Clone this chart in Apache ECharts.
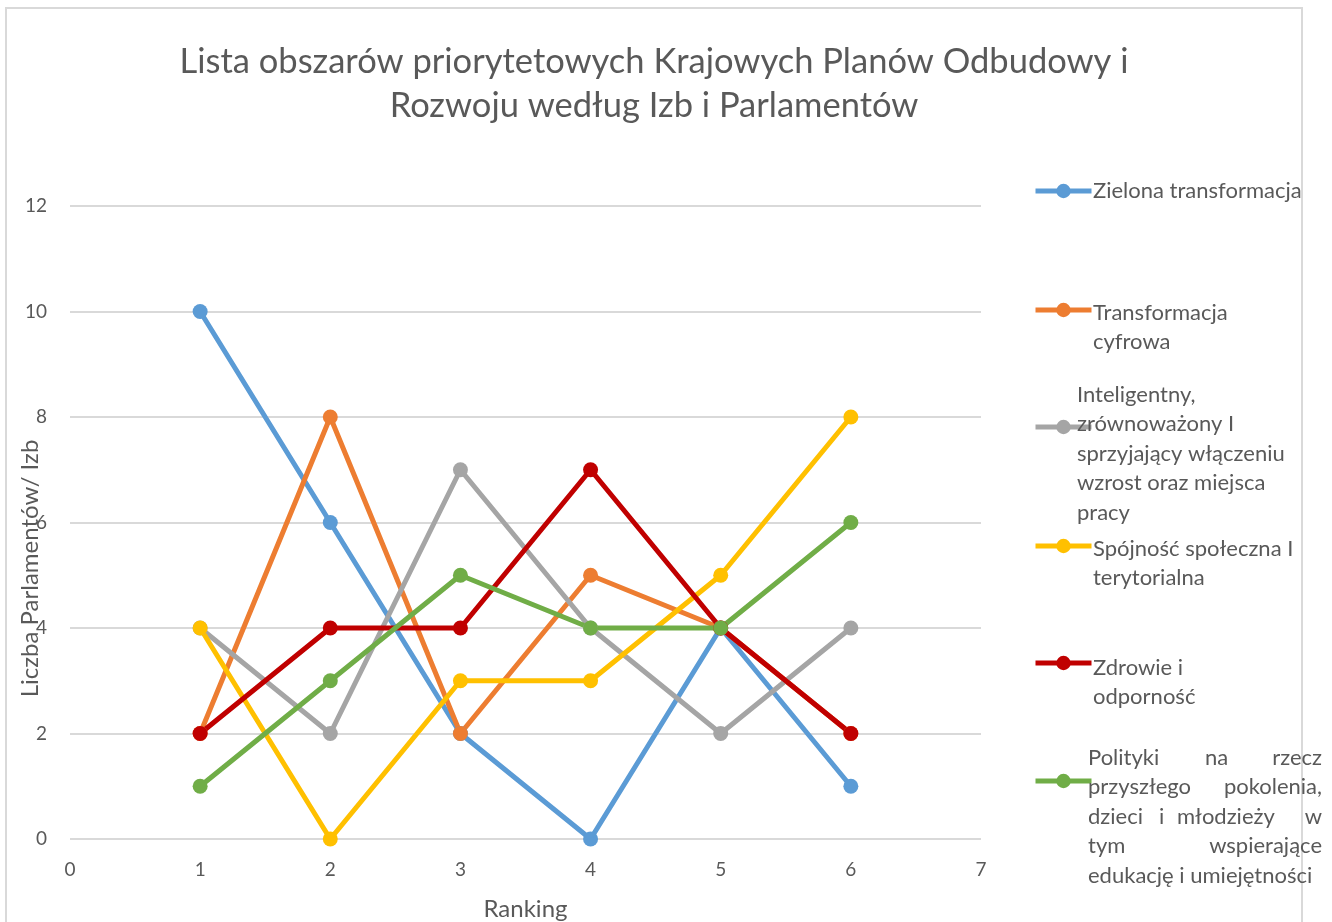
<!DOCTYPE html>
<html>
<head>
<meta charset="utf-8">
<script src="https://cdn.jsdelivr.net/npm/echarts@6/dist/echarts.min.js"></script>
<style>
html,body{margin:0;padding:0;background:#fff;}
#chart{width:1332px;height:922px;}
</style>
</head>
<body>
<div id="chart"></div>
<script>
const titleText = 'Lista obszarów priorytetowych Krajowych Planów Odbudowy i\nRozwoju według Izb i Parlamentów';
const xAxisName = 'Ranking';
const yAxisName = 'Liczba Parlamentów/ Izb';
const rankings = [1, 2, 3, 4, 5, 6];
const seriesNames = [
  'Zielona transformacja',
  'Transformacja cyfrowa',
  'Inteligentny, zrównoważony I sprzyjający włączeniu wzrost oraz miejsca pracy',
  'Spójność społeczna I terytorialna',
  'Zdrowie i odporność',
  'Polityki na rzecz przyszłego pokolenia, dzieci i młodzieży w tym wspierające edukację i umiejętności'
];
const legendLabels = [
  'Zielona transformacja',
  'Transformacja\ncyfrowa',
  'Inteligentny,\nzrównoważony I\nsprzyjający włączeniu\nwzrost oraz miejsca\npracy',
  'Spójność społeczna I\nterytorialna',
  'Zdrowie i\nodporność',
  '{a|Polityki}{b|na}{c|rzecz}\n{d|przyszłego}{e|pokolenia,}\n{f|dzieci}{g|i}{h|młodzieży}{k|w}\n{m|tym}{n|wspierające}\n{p|edukację i umiejętności}'
];
const zielona = [10, 6, 2, 0, 4, 1];
const cyfrowa = [2, 8, 2, 5, 4, 2];
const inteligentny = [4, 2, 7, 4, 2, 4];
const spojnosc = [4, 0, 3, 3, 5, 8];
const zdrowie = [2, 4, 4, 7, 4, 2];
const polityki = [1, 3, 5, 4, 4, 6];
const seriesValues = [zielona, cyfrowa, inteligentny, spojnosc, zdrowie, polityki];
const colors = ['#5B9BD5', '#ED7D31', '#A5A5A5', '#FFC000', '#C00000', '#70AD47'];

const FONT = 'Lato, "Noto Sans", sans-serif';
const TXT = '#595959';
const LEG_FS = 22;

const chart = echarts.init(document.getElementById('chart'), null, {renderer: 'canvas'});

const series = seriesNames.map((name, i) => ({
  name: name,
  type: 'line',
  data: rankings.map((r, j) => [r, seriesValues[i][j]]),
  symbol: 'circle',
  symbolSize: 15,
  lineStyle: {width: 5, color: colors[i]},
  itemStyle: {color: colors[i]},
  emphasis: {disabled: true},
  animation: false
}));

const iconCenters = [191, 310, 427, 546, 663, 781];
const textLeft = [1093, 1093, 1077, 1093, 1093, 1088];
const textTop = [176, 298, 380, 534, 653, 743];

const rich = {};
const richDefs = {a:[117,'left'], b:[68,'left'], c:[49,'right'], d:[132,'left'], e:[102,'right'],
  f:[71,'left'], g:[18,'left'], h:[130,'left'], k:[15,'right'], m:[120,'left'], n:[114,'right'], p:[234,'left']};
Object.keys(richDefs).forEach(key => {
  rich[key] = {width: richDefs[key][0], align: richDefs[key][1], fontSize: LEG_FS, fontFamily: FONT, color: TXT, lineHeight: 29.5};
});

const legends = [];
seriesNames.forEach((name, i) => {
  legends.push({
    data: [name],
    left: 1033,
    top: iconCenters[i] - 9,
    padding: 0,
    itemWidth: 56,
    itemHeight: 18,
    lineStyle: {width: 5},
    formatter: () => '',
    selectedMode: false,
    textStyle: {fontSize: 1}
  });
  legends.push({
    data: [name],
    left: textLeft[i] - 5,
    top: textTop[i],
    padding: 0,
    itemWidth: 0,
    itemHeight: 14,
    icon: 'none',
    selectedMode: false,
    formatter: () => legendLabels[i],
    textStyle: {fontSize: LEG_FS, fontFamily: FONT, color: TXT, lineHeight: 29.5, rich: rich}
  });
});

const option = {
  backgroundColor: '#ffffff',
  color: colors,
  animation: false,
  title: {
    text: titleText,
    left: 654,
    textAlign: 'center',
    top: 40,
    padding: 0,
    textStyle: {fontSize: 34.5, fontWeight: 'normal', fontFamily: FONT, color: TXT, lineHeight: 44}
  },
  legend: legends,
  graphic: [{
    type: 'rect',
    shape: {x: 6, y: 8, width: 1296, height: 940},
    style: {fill: 'none', stroke: '#D9D9D9', lineWidth: 2},
    silent: true,
    z: -10
  }],
  grid: {left: 70, right: 351, top: 206, bottom: 83, containLabel: false, outerBoundsMode: 'none'},
  xAxis: {
    type: 'value',
    min: 0, max: 7, interval: 1,
    name: xAxisName,
    nameLocation: 'middle',
    nameGap: 58,
    nameMoveOverlap: false,
    nameTextStyle: {fontSize: 24, fontFamily: FONT, color: TXT},
    axisLine: {show: false},
    axisTick: {show: false},
    splitLine: {show: false},
    axisLabel: {fontSize: 19, fontFamily: FONT, color: TXT, margin: 21}
  },
  yAxis: {
    type: 'value',
    min: 0, max: 12, interval: 2,
    name: yAxisName,
    nameLocation: 'middle',
    nameGap: 28,
    nameMoveOverlap: false,
    nameTextStyle: {fontSize: 24, fontFamily: FONT, color: TXT, padding: [0, 92, 0, 0]},
    axisLine: {show: false},
    axisTick: {show: false},
    splitLine: {lineStyle: {color: '#D9D9D9', width: 2}},
    axisLabel: {fontSize: 19, fontFamily: FONT, color: TXT, margin: 23}
  },
  series: series
};
chart.setOption(option);
</script>
</body>
</html>
